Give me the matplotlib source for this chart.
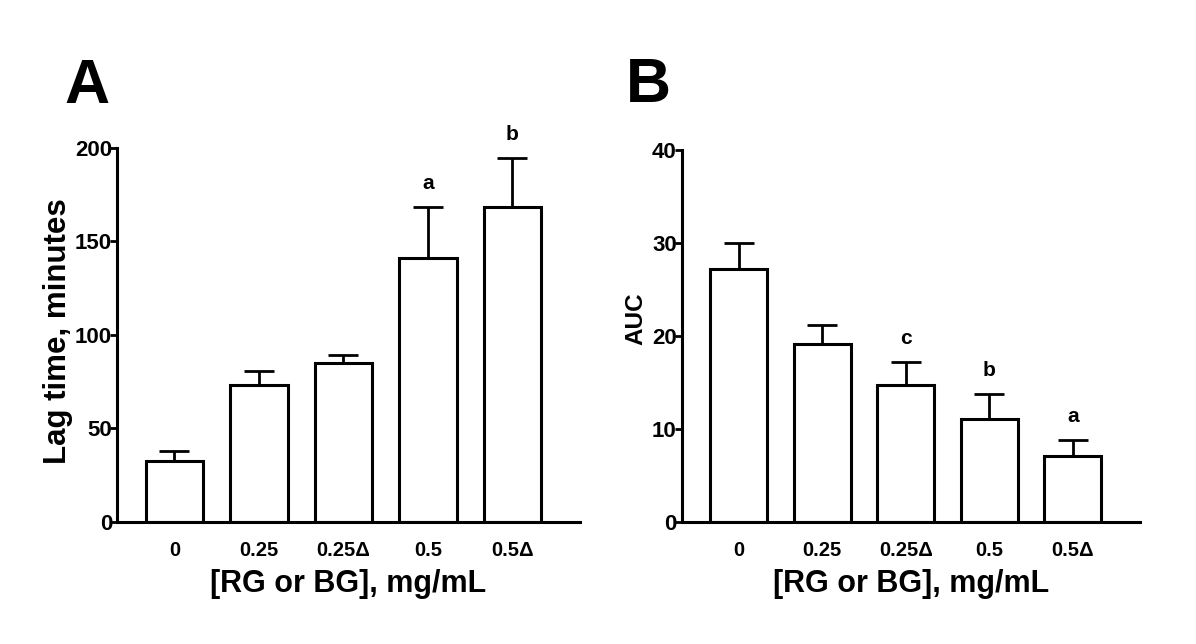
import numpy as np
import matplotlib
matplotlib.use("Agg")
import matplotlib.pyplot as plt

plt.rcParams['font.family'] = ['Liberation Sans', 'DejaVu Sans']
plt.rcParams['font.weight'] = 'bold'

groups = ["0", "0.25", "0.25\u0394", "0.5", "0.5\u0394"]

lag_mean = [32.6, 73.3, 85.0, 141.0, 168.5]
lag_err = [5.4, 7.4, 4.3, 27.5, 26.2]
lag_letters = ["", "", "", "a", "b"]

auc_mean = [27.2, 19.1, 14.7, 11.1, 7.1]
auc_err = [2.8, 2.1, 2.5, 2.7, 1.7]
auc_letters = ["", "", "c", "b", "a"]


def panel(ax, means, errs, letters, ymax, step, ylabel, label_size, label_xy):
    x = np.arange(len(groups))
    ax.errorbar(x, means, yerr=[np.zeros(len(errs)), errs], fmt='none',
                ecolor='black', elinewidth=2, capsize=11, capthick=2, zorder=1)
    ax.bar(x, means, width=0.68, color='white', edgecolor='black',
           linewidth=2.2, zorder=2)
    for xi, m, e, t in zip(x, means, errs, letters):
        if t:
            ax.annotate(t, (xi, m + e), xytext=(0, 10), textcoords='offset points',
                        ha='center', va='bottom', fontsize=15, fontweight='bold')
    ax.set_xlim(-0.68, 4.8)
    ax.set_ylim(0, ymax)
    ax.set_yticks(np.arange(0, ymax + 1, step))
    ax.set_xticks(x)
    ax.set_xticklabels(groups, fontsize=14.5, fontweight='bold')
    ax.tick_params(axis='x', length=0, pad=14)
    ax.tick_params(axis='y', length=5, width=2, labelsize=16, pad=-1.5)
    for lab in ax.get_yticklabels():
        lab.set_fontweight('bold')
    ax.spines['top'].set_visible(False)
    ax.spines['right'].set_visible(False)
    ax.spines['left'].set_linewidth(2.2)
    ax.spines['bottom'].set_linewidth(2.2)
    ax.set_xlabel("[RG or BG], mg/mL", fontsize=22, fontweight='bold', labelpad=6)
    ax.set_ylabel(ylabel, fontsize=label_size, fontweight='bold')
    ax.yaxis.set_label_coords(*label_xy)


fig = plt.figure(figsize=(11.96, 6.44), dpi=100)
axA = fig.add_axes([0.0978, 0.1894, 0.387, 0.581])
axB = fig.add_axes([0.570, 0.1894, 0.383, 0.578])

panel(axA, lag_mean, lag_err, lag_letters, 200, 50, "Lag time, minutes", 22.5, (-0.095, 0.51))
panel(axB, auc_mean, auc_err, auc_letters, 40, 10, "AUC", 17.5, (-0.074, 0.546))

fig.text(0.054, 0.84, "A", fontsize=45, fontweight='bold')
fig.text(0.523, 0.842, "B", fontsize=45, fontweight='bold')

fig.savefig("out.png", dpi=100)
